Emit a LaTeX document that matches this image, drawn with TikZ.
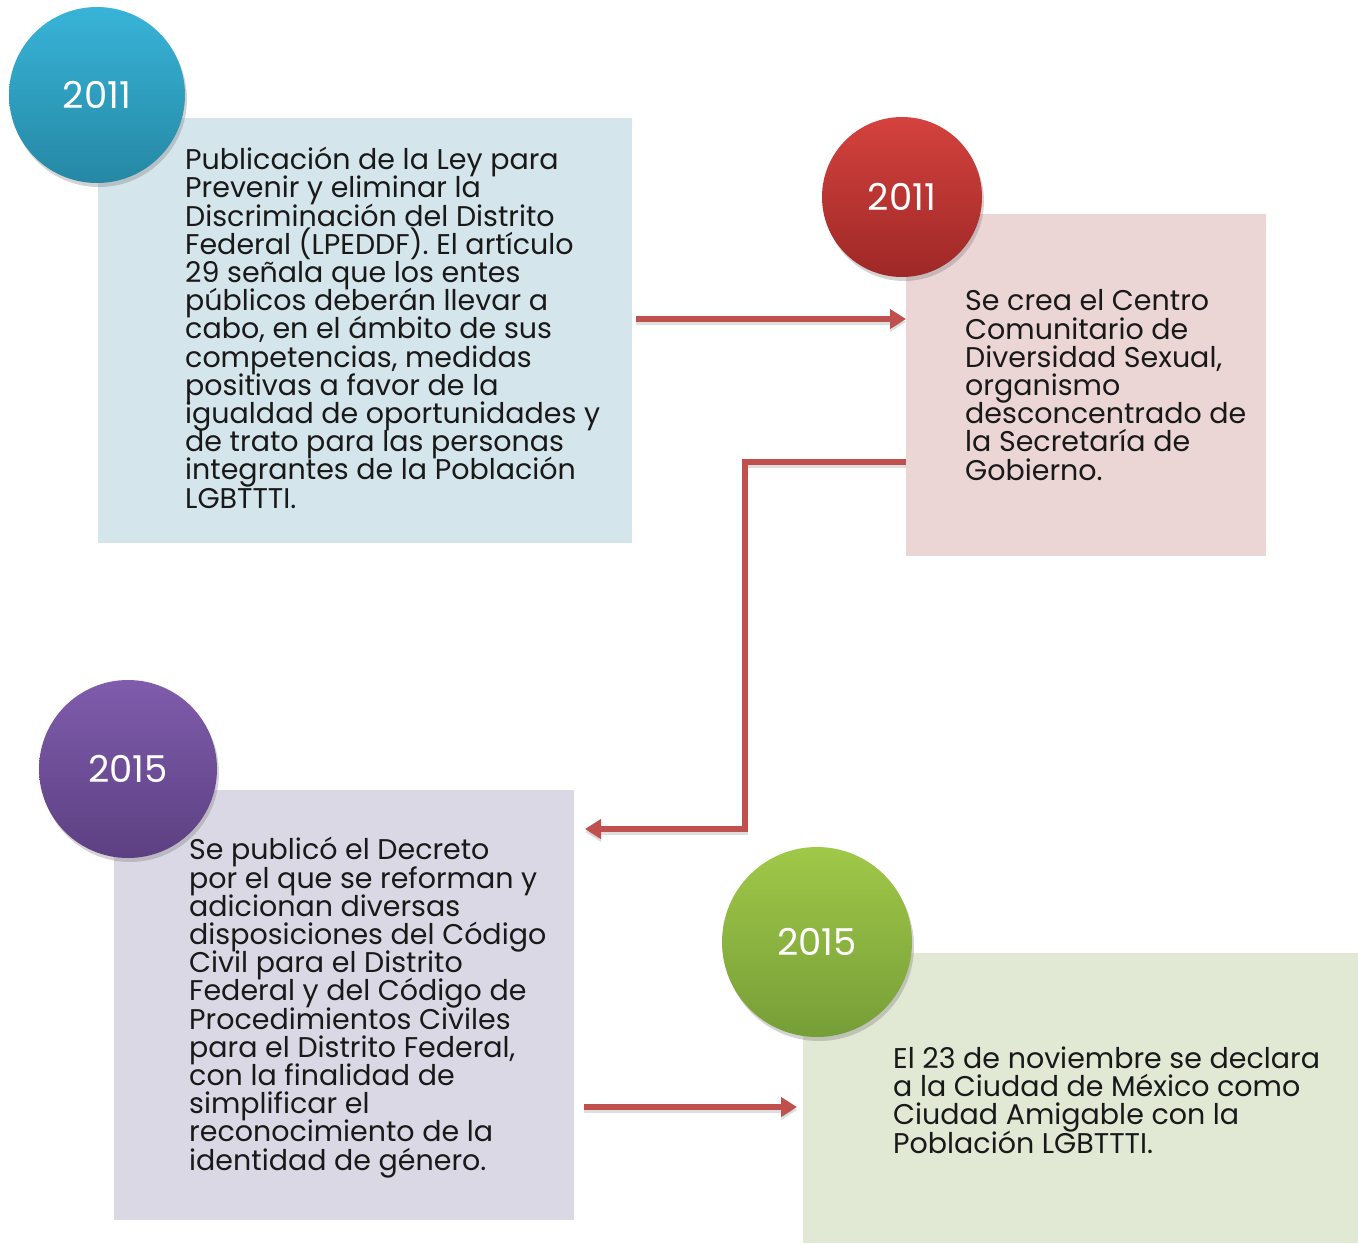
\documentclass[tikz,border=0pt]{standalone}
\usepackage{fontspec}
\setmainfont{Poppins}
\usetikzlibrary{shadows,arrows.meta}
\definecolor{redline}{HTML}{C0504D}
\definecolor{boxA}{HTML}{D4E5EC}
\definecolor{boxB}{HTML}{EBD5D5}
\definecolor{boxC}{HTML}{DAD8E5}
\definecolor{boxD}{HTML}{E1E8D4}
\newcommand\mytightlines{\lineskiplimit=-100pt\relax\lineskip=0pt\relax}
\tikzset{
  yearc/.style={circle, inner sep=0pt, text=white, font=\fontsize{37}{40}\selectfont,
    drop shadow={opacity=0.35, shadow xshift=2pt, shadow yshift=-4pt}},
  txt/.style={anchor=base west, align=left, inner sep=0pt, text=black!90,
    font=\fontsize{28.5}{28.2}\selectfont\mytightlines},
  conn/.style={draw=redline, line width=6pt, -{Triangle[length=16pt,width=19pt]},
    preaction={draw=black, opacity=0.13, line width=6pt, transform canvas={yshift=-3pt}}},
}
\begin{document}
\begin{tikzpicture}[x=1pt,y=-1pt]
\useasboundingbox (0,0) rectangle (1358,1243);
% boxes
\fill[boxA] (98,118) rectangle (632,543);
\coordinate (bAr) at (632,319);
\fill[boxB] (906,214) rectangle (1266,556);
\coordinate (bBl) at (906,319);
\coordinate (bBo) at (906,462);
\fill[boxC] (114,790) rectangle (574,1220);
\coordinate (bCr) at (585,829);
\coordinate (bCo) at (584,1107);
\fill[boxD] (803,953) rectangle (1358,1243);
\coordinate (bDl) at (797,1107);
% circles
\node[yearc, minimum size=176pt,
  top color={rgb,255:red,56;green,180;blue,216}, bottom color={rgb,255:red,37;green,136;blue,164}]
  (c1) at (97,95) {2011};
\node[yearc, minimum size=160pt,
  top color={rgb,255:red,212;green,66;blue,62}, bottom color={rgb,255:red,158;green,40;blue,38}]
  (c2) at (902,197) {2011};
\node[yearc, minimum size=178pt,
  top color={rgb,255:red,128;green,92;blue,172}, bottom color={rgb,255:red,92;green,64;blue,130}]
  (c3) at (128,769) {2015};
\node[yearc, minimum size=190pt,
  top color={rgb,255:red,160;green,200;blue,72}, bottom color={rgb,255:red,118;green,158;blue,56}]
  (c4) at (817,942) {2015};
% texts (anchored at the baseline of the last line)
\node[txt] (t1) at (185,508) {Publicación de la Ley para\\Prevenir y eliminar la\\Discriminación del Distrito\\Federal (LPEDDF). El artículo\\29 señala que los entes\\públicos deberán llevar a\\cabo, en el ámbito de sus\\competencias, medidas\\positivas a favor de la\\igualdad de oportunidades y\\de trato para las personas\\integrantes de la Población\\LGBTTTI.};
\node[txt] (t2) at (965,480) {Se crea el Centro\\Comunitario de\\Diversidad Sexual,\\organismo\\desconcentrado de\\la Secretaría de\\Gobierno.};
\node[txt] (t3) at (189,1170) {Se publicó el Decreto\\por el que se reforman y\\adicionan diversas\\disposiciones del Código\\Civil para el Distrito\\Federal y del Código de\\Procedimientos Civiles\\para el Distrito Federal,\\con la finalidad de\\simplificar el\\reconocimiento de la\\identidad de género.};
\node[txt] (t4) at (893,1153) {El 23 de noviembre se declara\\a la Ciudad de México como\\Ciudad Amigable con la\\Población LGBTTTI.};
% connectors
\draw[conn] ([xshift=4pt]bAr) -- (bBl);
\draw[conn] (bBo) -- (745,462) -- (745,829) -- (bCr);
\draw[conn] (bCo) -- (bDl);
\end{tikzpicture}
\end{document}
